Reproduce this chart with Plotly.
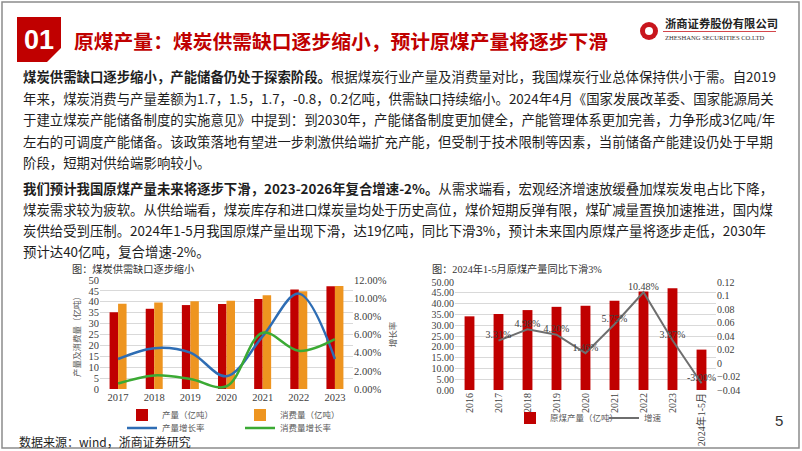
import plotly.graph_objects as go

W, H = 802, 451

# chart 1: supply / demand
years = ["2017", "2018", "2019", "2020", "2021", "2022", "2023"]
production = [35.2, 36.8, 38.5, 39.0, 41.3, 45.6, 47.1]
consumption = [39.1, 39.7, 40.2, 40.5, 43.0, 44.8, 47.3]
production_growth = [0.033, 0.045, 0.040, 0.014, 0.058, 0.105, 0.033]
consumption_growth = [0.006, 0.015, 0.011, 0.003, 0.062, 0.042, 0.055]

# chart 2: raw coal output
periods = ["2016", "2017", "2018", "2019", "2020", "2021", "2022", "2023", "2024年1-5月"]
raw_coal = [34.1, 35.2, 37.0, 38.5, 39.0, 41.3, 45.6, 47.1, 18.7]
raw_growth = [None, 0.0331, 0.0498, 0.0420, 0.0146, 0.0575, 0.1048, 0.0337, -0.0300]

para1 = [
    "<b>煤炭供需缺口逐步缩小，产能储备仍处于探索阶段。</b>根据煤炭行业产量及消费量对比，我国煤炭行业总体保持供小于需。自2019",
    "年来，煤炭消费与产量差额为1.7，1.5，1.7，-0.8，0.2亿吨，供需缺口持续缩小。2024年4月《国家发展改革委、国家能源局关",
    "于建立煤炭产能储备制度的实施意见》中提到：到2030年，产能储备制度更加健全，产能管理体系更加完善，力争形成3亿吨/年",
    "左右的可调度产能储备。该政策落地有望进一步刺激供给端扩充产能，但受制于技术限制等因素，当前储备产能建设仍处于早期",
    "阶段，短期对供给端影响较小。",
]
para2 = [
    "<b>我们预计我国原煤产量未来将逐步下滑，2023-2026年复合增速-2%。</b>从需求端看，宏观经济增速放缓叠加煤炭发电占比下降，",
    "煤炭需求较为疲软。从供给端看，煤炭库存和进口煤炭量均处于历史高位，煤价短期反弹有限，煤矿减量置换加速推进，国内煤",
    "炭供给受到压制。2024年1-5月我国原煤产量出现下滑，达19亿吨，同比下滑3%，预计未来国内原煤产量将逐步走低，2030年",
    "预计达40亿吨，复合增速-2%。",
]

RED = "#C00000"
ORANGE = "#EE9520"
BLUE = "#2E6DB4"
GREEN = "#3BAA34"
GREY = "#6E6E6E"
CJK = "Noto Sans CJK SC"
SERIF = "Liberation Serif, Noto Sans CJK SC"
TICK = "#404040"


def fx(x):
    return x / W


def fy(y):
    return 1 - y / H


fig = go.Figure()

fig.add_trace(go.Bar(x=years, y=production, name="产量（亿吨）", marker_color=RED,
                     xaxis="x", yaxis="y", legend="legend"))
fig.add_trace(go.Bar(x=years, y=consumption, name="消费量（亿吨）", marker_color=ORANGE,
                     xaxis="x", yaxis="y", legend="legend2"))
fig.add_trace(go.Scatter(x=years, y=production_growth, name="产量增长率", mode="lines",
                         line=dict(color=BLUE, width=2.5, shape="spline", smoothing=1),
                         xaxis="x", yaxis="y2", legend="legend3"))
fig.add_trace(go.Scatter(x=years, y=consumption_growth, name="消费量增长率", mode="lines",
                         line=dict(color=GREEN, width=2.5, shape="spline", smoothing=1),
                         xaxis="x", yaxis="y2", legend="legend4"))

fig.add_trace(go.Bar(x=periods, y=raw_coal, name="原煤产量（亿吨）", marker_color=RED, width=0.34,
                     xaxis="x2", yaxis="y3", legend="legend5"))
fig.add_trace(go.Scatter(x=periods, y=raw_growth, name="增速", mode="lines+text",
                         line=dict(color=GREY, width=2),
                         texttemplate="%{y:.2%}", textposition="top center",
                         textfont=dict(family=SERIF, size=10, color=TICK), cliponaxis=False,
                         xaxis="x2", yaxis="y4", legend="legend6"))

tickfont = dict(family=SERIF, size=10.5, color=TICK)
grid = "#D9D9D9"

legend_style = dict(font=dict(family=CJK, size=8.5, color="#595959"), bgcolor="rgba(0,0,0,0)",
                    xanchor="left", yanchor="middle", itemwidth=30)

annotations = []
for i, line in enumerate(para1):
    annotations.append(dict(x=fx(21), y=fy(76 + 21.5 * i), text=line))
for i, line in enumerate(para2):
    annotations.append(dict(x=fx(21), y=fy(188 + 20.9 * i), text=line))
for a in annotations:
    a.update(xref="paper", yref="paper", xanchor="left", yanchor="middle", showarrow=False,
             font=dict(family=CJK, size=13.4, color="#1E1E1E"))

annotations += [
    dict(x=fx(39), y=fy(40), text="<b>01</b>", xanchor="center",
         font=dict(family="Liberation Sans", size=27, color="white")),
    dict(x=fx(72), y=fy(40), text="<b>原煤产量：煤炭供需缺口逐步缩小，预计原煤产量将逐步下滑</b>", xanchor="left",
         font=dict(family=CJK, size=19.8, color=RED)),
    dict(x=fx(663), y=fy(23), text="<b>浙商证券股份有限公司</b>", xanchor="left",
         font=dict(family=CJK, size=11.3, color="#222")),
    dict(x=fx(663), y=fy(38), text="ZHESHANG SECURITIES CO.LTD", xanchor="left",
         font=dict(family="Liberation Serif", size=6.6, color="#333")),
    dict(x=fx(70), y=fy(268.5), text="图：煤炭供需缺口逐步缩小", xanchor="left",
         font=dict(family=CJK, size=10.2, color="#333")),
    dict(x=fx(430), y=fy(268.5), text="图：2024年1-5月原煤产量同比下滑3%", xanchor="left",
         font=dict(family=SERIF, size=10.2, color="#333")),
    dict(x=fx(17), y=fy(441), text="数据来源：wind，浙商证券研究", xanchor="left",
         font=dict(family=CJK, size=12, color="#1E1E1E")),
    dict(x=fx(779), y=fy(420), text="5", xanchor="center",
         font=dict(family="Liberation Sans", size=15, color="#333")),
]
for a in annotations[-8:]:
    a.update(xref="paper", yref="paper", yanchor="middle", showarrow=False)


def path(points):
    return "M " + " L ".join(f"{fx(x)},{fy(y)}" for x, y in points) + " Z"


shapes = [
    dict(type="rect", xref="paper", yref="paper", x0=fx(2), x1=fx(799), y0=fy(2), y1=fy(448),
         line=dict(color="#8C8C8C", width=1.5)),
    dict(type="path", xref="paper", yref="paper",
         path=path([(17, 17), (61, 17), (61, 48), (47, 62), (17, 62)]),
         fillcolor=RED, line=dict(width=0)),
    dict(type="circle", xref="paper", yref="paper", x0=fx(640), x1=fx(658), y0=fy(40), y1=fy(22),
         fillcolor="#C8161D", line=dict(width=0)),
    dict(type="circle", xref="paper", yref="paper", x0=fx(645), x1=fx(653), y0=fy(35), y1=fy(27),
         fillcolor="white", line=dict(width=0)),
    dict(type="line", xref="paper", yref="paper", x0=fx(663), x1=fx(776), y0=fy(31.5), y1=fy(31.5),
         line=dict(color="#C8161D", width=0.8)),
]

fig.update_layout(
    template="none",
    width=W, height=H,
    margin=dict(l=0, r=0, t=0, b=0),
    paper_bgcolor="white", plot_bgcolor="rgba(0,0,0,0)",
    font=dict(family=CJK, color="#333"),
    barmode="group", bargap=0.53, bargroupgap=0,
    showlegend=True,
    xaxis=dict(domain=[fx(100), fx(353)], anchor="y", type="category", tickfont=tickfont,
               showgrid=False, showline=False, ticks="", automargin=False),
    yaxis=dict(domain=[fy(389), fy(280)], anchor="x", range=[0, 50], dtick=5, tickfont=tickfont,
               gridcolor=grid, gridwidth=1, zeroline=False, showline=False, ticks="",
               automargin=False,
               title=dict(text="产量及消费量（亿吨）", standoff=6,
                          font=dict(family=CJK, size=8.5, color="#595959"))),
    yaxis2=dict(overlaying="y", side="right", anchor="x", range=[0, 0.12], dtick=0.02,
                tickformat=".2%", tickfont=tickfont, showgrid=False, zeroline=False,
                showline=False, ticks="", automargin=False,
                title=dict(text="增长率", standoff=4,
                           font=dict(family=CJK, size=8.5, color="#595959"))),
    xaxis2=dict(domain=[fx(455), fx(716)], anchor="y3", type="category",
                tickfont=dict(family=SERIF, size=10, color=TICK),
                tickangle=-90, showgrid=False, showline=False, ticks="", automargin=False),
    yaxis3=dict(domain=[fy(390), fy(282)], anchor="x2", range=[0, 50], dtick=5, tickformat=".2f",
                tickfont=dict(family=SERIF, size=10, color=TICK), gridcolor=grid, zeroline=False,
                showline=False, ticks="", automargin=False),
    yaxis4=dict(overlaying="y3", side="right", anchor="x2", range=[-0.04, 0.12], dtick=0.02,
                tickfont=dict(family=SERIF, size=10, color=TICK), showgrid=False, zeroline=False,
                showline=False, ticks="", automargin=False),
    legend=dict(x=fx(122), y=fy(415), **legend_style),
    legend2=dict(x=fx(240), y=fy(415), **legend_style),
    legend3=dict(x=fx(122), y=fy(428), **legend_style),
    legend4=dict(x=fx(240), y=fy(428), **legend_style),
    legend5=dict(x=fx(510), y=fy(418), **legend_style),
    legend6=dict(x=fx(604), y=fy(418), **legend_style),
    annotations=annotations,
    shapes=shapes,
)

# the page body has a default 8px margin; remove it so the figure fills the window
fig.write_html("out.html", config={"displayModeBar": False},
               post_script="document.body.style.margin='0';")
